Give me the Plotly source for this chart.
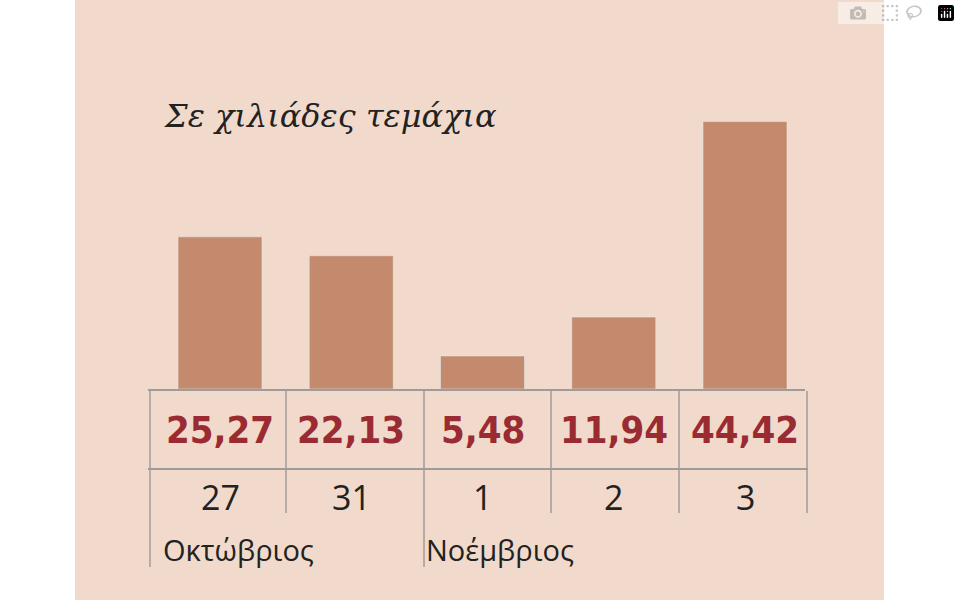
import plotly.graph_objects as go

values = [25.27, 22.13, 5.48, 11.94, 44.42]
value_labels = ["25,27", "22,13", "5,48", "11,94", "44,42"]
days = ["27", "31", "1", "2", "3"]
months = [("Οκτώβριος", 0), ("Νοέμβριος", 2)]
title = "Σε χιλιάδες τεμάχια"

BG = "#F1DACB"
BAR = "#C38A6E"
RED = "#9B2B33"
GRID = "#A09A98"

W, H = 960, 600
def px(xpix): return xpix / W
def py(ypix): return 1 - ypix / H

xs = list(range(len(values)))
fig = go.Figure(go.Bar(x=xs, y=values, marker_color=BAR, width=0.64, hoverinfo="skip"))

shapes = [dict(type="rect", xref="paper", yref="paper", x0=px(75), x1=px(884), y0=0, y1=1,
               fillcolor=BG, line_width=0, layer="below")]
shapes.append(dict(type="line", xref="paper", yref="paper", x0=px(148), x1=px(805), y0=py(390), y1=py(390), line=dict(color=GRID, width=2)))
shapes.append(dict(type="line", xref="paper", yref="paper", x0=px(148), x1=px(808), y0=py(469), y1=py(469), line=dict(color=GRID, width=2)))
for xv, yb in [(150, 567), (286, 513), (424, 567), (551, 513), (679, 513), (807, 513)]:
    shapes.append(dict(type="line", xref="paper", yref="paper", x0=px(xv), x1=px(xv), y0=py(391), y1=py(yb), line=dict(color=GRID, width=1.5)))

ann = []
for i, (v, d) in enumerate(zip(value_labels, days)):
    ann.append(dict(x=i, xref="x", y=py(430), yref="paper", yanchor="middle", text=v, showarrow=False,
                    font=dict(family="DejaVu Sans Condensed, Roboto", size=38, color=RED, weight="bold")))
    ann.append(dict(x=i, xref="x", y=py(497), yref="paper", yanchor="middle", text=d, showarrow=False,
                    font=dict(family="Open Sans", size=34, color="#222222")))
for m, i in months:
    ann.append(dict(x=i, xref="x", xshift=-59, xanchor="left", y=py(549), yref="paper", yanchor="middle",
                    text=m, showarrow=False,
                    font=dict(family="Open Sans", size=29, color="#222222")))
ann.append(dict(x=px(162), xref="paper", xanchor="left", y=py(116), yref="paper", yanchor="middle",
                text="<i>" + title + "</i>",
                showarrow=False, font=dict(family="DejaVu Serif, Liberation Serif", size=32, color="#222222")))

spacing = 131.25
c0 = 220
fig.update_layout(
    width=W, height=H, margin=dict(l=0, r=0, t=0, b=0),
    paper_bgcolor="white", plot_bgcolor="rgba(0,0,0,0)",
    xaxis=dict(range=[-c0 / spacing, (W - c0) / spacing], visible=False, fixedrange=True),
    yaxis=dict(range=[-(H - 389) / 6.02, 389 / 6.02], visible=False, fixedrange=True),
    shapes=shapes, annotations=ann, showlegend=False,
)
fig.write_html("out.html")
with open("out.html", encoding="utf-8") as f:
    html = f.read()
html = html.replace("<body>", '<body style="margin:0;overflow:hidden">', 1)
with open("out.html", "w", encoding="utf-8") as f:
    f.write(html)
